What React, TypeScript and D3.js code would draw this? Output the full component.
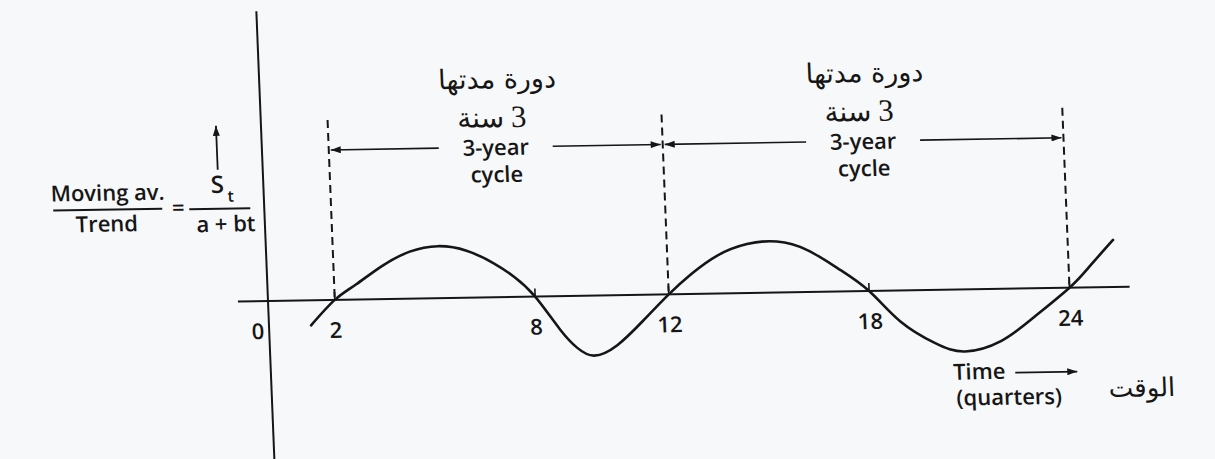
import React from "react";
import * as d3 from "d3";

// curve: quarter -> (moving av. / trend) deviation
const quarters = [
  1.26, 2, 2.65, 3.45, 4.3, 5.15, 6.0, 6.8, 7.4, 8, 8.7, 9.2, 9.7, 10.4, 11.2,
  12, 12.7, 13.5, 14.4, 15.3, 16.2, 17.1, 18, 18.9, 19.9, 20.8, 21.9, 22.9, 24,
  24.6, 25.36,
];
const deviation = [
  -0.5, 0, 0.3, 0.66, 0.94, 1.04, 0.94, 0.68, 0.4, 0, -0.66, -1.04, -1.2, -1.0,
  -0.52, 0, 0.4, 0.76, 0.98, 1.02, 0.84, 0.46, 0, -0.62, -1.06, -1.24, -1.04,
  -0.58, 0, 0.4, 0.94,
];

const tickQuarters = [2, 8, 12, 18, 24];
const tickLabels = ["2", "8", "12", "18", "24"];

const cycleStart = [2, 12];
const cycleEnd = [12, 24];
const cycleLabelAr = ["دورة مدتها", "دورة مدتها"];
const cycleYearsAr = ["سنة", "سنة"];
const cycleYears = ["3", "3"];
const cycleLabelEn = ["3-year", "3-year"];
const cycleLabelEn2 = ["cycle", "cycle"];

const W = 1215;
const H = 459;
const ink = "#161616";
const sans = "'Open Sans', 'Noto Sans', sans-serif";
const arabic = "'DejaVu Sans', sans-serif";

const App = () => {
  const x = d3.scaleLinear().domain([0, 24]).range([0, 801.6]);
  const y = d3.scaleLinear().domain([-1, 1]).range([50, -50]);

  const pts: [number, number][] = quarters.map((q, i) => [q, deviation[i]]);
  const line = d3
    .line<[number, number]>()
    .x((d) => x(d[0]))
    .y((d) => y(d[1]))
    .curve(d3.curveNatural);

  const dashTop = -180;
  const arrowY = -150;
  const gap = 57;

  return (
    <svg
      width={W}
      height={H}
      style={{ position: "absolute", left: 0, top: 0 }}
      fontFamily={sans}
    >
      <defs>
        <marker
          id="head"
          viewBox="0 0 10 7"
          refX="10"
          refY="3.5"
          markerWidth="11"
          markerHeight="7"
          markerUnits="userSpaceOnUse"
          orient="auto-start-reverse"
        >
          <path d="M0,0 L10,3.5 L0,7 z" fill={ink} />
        </marker>
      </defs>
      <rect width={W} height={H} fill="#f7f8f9" />

      {/* the photo is slightly tilted, so the whole drawing is too */}
      <g transform="translate(268,301) rotate(-0.95) skewX(1.35)">
        {/* axes */}
        <line x1={0} x2={0} y1={-290} y2={165} stroke={ink} strokeWidth={2} />
        <line
          x1={x(-0.9)}
          x2={x(25.8)}
          y1={y(0)}
          y2={y(0)}
          stroke={ink}
          strokeWidth={2}
        />
        <text x={-5} y={38} fontSize={22} fontWeight={600} fill={ink} textAnchor="end">
          0
        </text>
        {tickQuarters.map((q, i) => (
          <g key={q}>
            <line x1={x(q)} x2={x(q)} y1={0} y2={-8} stroke={ink} strokeWidth={1.6} />
            <text
              x={x(q)}
              y={38}
              fontSize={22}
              fontWeight={600}
              fill={ink}
              textAnchor="middle"
            >
              {tickLabels[i]}
            </text>
          </g>
        ))}

        {/* cycle boundaries */}
        {[...new Set([...cycleStart, ...cycleEnd])].map((q) => (
          <line
            key={q}
            x1={x(q)}
            x2={x(q)}
            y1={dashTop}
            y2={0}
            stroke={ink}
            strokeWidth={2}
            strokeDasharray="8 5"
          />
        ))}

        {cycleStart.map((s, i) => {
          const mid = (x(s) + x(cycleEnd[i])) / 2;
          return (
            <g key={s}>
              <line
                x1={x(s) + 2}
                x2={mid - gap}
                y1={arrowY}
                y2={arrowY}
                stroke={ink}
                strokeWidth={1.6}
                markerStart="url(#head)"
              />
              <line
                x1={mid + gap}
                x2={x(cycleEnd[i]) - 2}
                y1={arrowY}
                y2={arrowY}
                stroke={ink}
                strokeWidth={1.6}
                markerEnd="url(#head)"
              />
              <text
                x={mid}
                y={arrowY + 8}
                fontSize={22}
                fontWeight={600}
                fill={ink}
                textAnchor="middle"
              >
                {cycleLabelEn[i]}
              </text>
              <text
                x={mid}
                y={arrowY + 35}
                fontSize={22}
                fontWeight={600}
                fill={ink}
                textAnchor="middle"
              >
                {cycleLabelEn2[i]}
              </text>
              <text
                x={mid + 4}
                y={-209}
                fontSize={27}
                fontFamily={arabic}
                fill={ink}
                textAnchor="middle"
              >
                {cycleLabelAr[i]}
              </text>
              <text
                x={mid - 14}
                y={-170}
                fontSize={28}
                fontFamily={arabic}
                fill={ink}
                textAnchor="middle"
              >
                {cycleYearsAr[i]}
              </text>
              <text
                x={mid + 24}
                y={-170}
                fontSize={31}
                fontFamily="'Liberation Serif', serif"
                fill={ink}
                textAnchor="middle"
              >
                {cycleYears[i]}
              </text>
            </g>
          );
        })}

        {/* the cycle curve */}
        <path
          d={line(pts) ?? ""}
          fill="none"
          stroke={ink}
          strokeWidth={2.6}
          strokeLinecap="round"
        />

        {/* y label: moving av. / trend = S_t / (a + bt) */}
        <g fill={ink} fontSize={22} fontWeight={600}>
          <text x={-156} y={-103} textAnchor="middle">
            Moving av.
          </text>
          <line x1={-211} x2={-102} y1={-94} y2={-94} stroke={ink} strokeWidth={2} />
          <text x={-158} y={-72} textAnchor="middle">
            Trend
          </text>
          <text x={-86} y={-87} textAnchor="middle">
            =
          </text>
          <text x={-46} y={-109} textAnchor="middle" fontSize={24}>
            S
          </text>
          <text x={-33} y={-100} textAnchor="middle" fontSize={16}>
            t
          </text>
          <line x1={-75} x2={-14} y1={-93} y2={-93} stroke={ink} strokeWidth={2} />
          <text x={-39} y={-70} textAnchor="middle">
            a + bt
          </text>
          <line
            x1={-45}
            x2={-45}
            y1={-132}
            y2={-176}
            stroke={ink}
            strokeWidth={1.8}
            markerEnd="url(#head)"
          />
        </g>

        {/* x label */}
        <g fill={ink} fontSize={22} fontWeight={600}>
          <text x={708} y={90} textAnchor="middle">
            Time
          </text>
          <line
            x1={744}
            x2={806}
            y1={84}
            y2={84}
            stroke={ink}
            strokeWidth={1.6}
            markerEnd="url(#head)"
          />
          <text x={737} y={116} textAnchor="middle">
            (quarters)
          </text>
          <text
            x={870}
            y={110}
            textAnchor="middle"
            fontFamily={arabic}
            fontWeight={400}
            fontSize={26}
          >
            الوقت
          </text>
        </g>
      </g>
    </svg>
  );
};

export default App;
